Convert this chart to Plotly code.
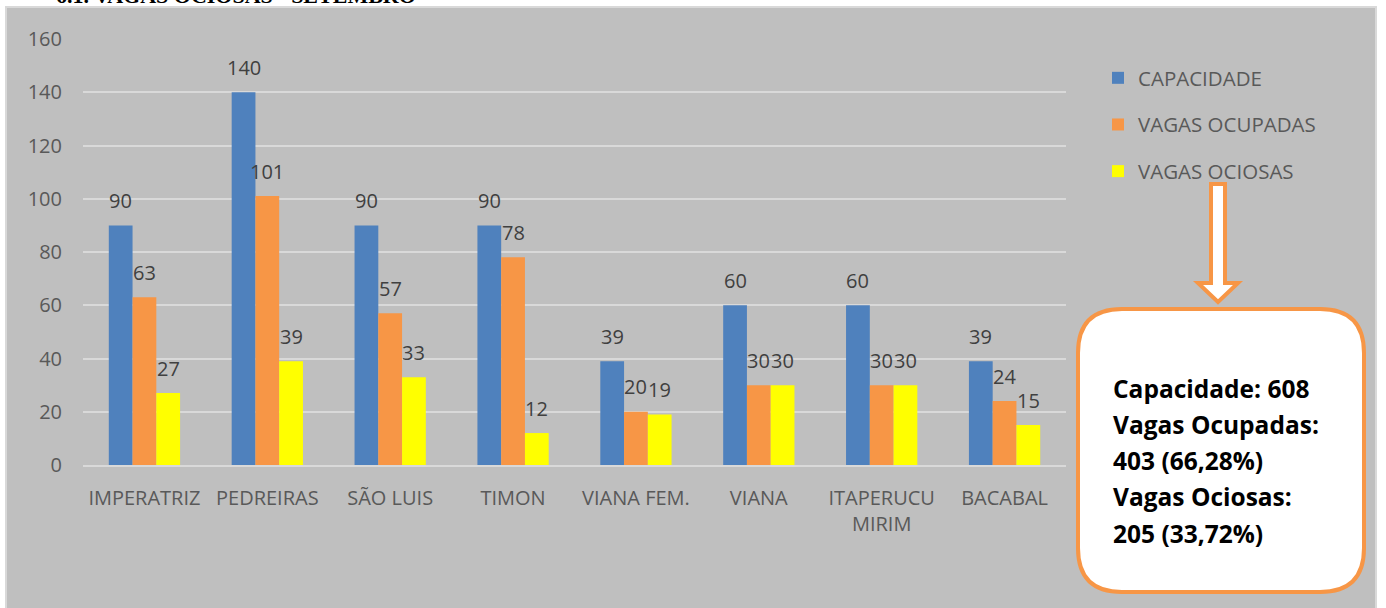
import plotly.graph_objects as go

categories = ["IMPERATRIZ", "PEDREIRAS", "SÃO LUIS", "TIMON", "VIANA FEM.", "VIANA", "ITAPERUCU<br>MIRIM", "BACABAL"]
capacidade = [90, 140, 90, 90, 39, 60, 60, 39]
ocupadas = [63, 101, 57, 78, 20, 30, 30, 24]
ociosas = [27, 39, 33, 12, 19, 30, 30, 15]
series_names = ["CAPACIDADE", "VAGAS OCUPADAS", "VAGAS OCIOSAS"]
series_colors = ["#4F81BD", "#F79646", "#FFFF00"]
y_ticks = [0, 20, 40, 60, 80, 100, 120, 140, 160]
summary_lines = ["Capacidade: 608", "Vagas Ocupadas:", "403 (66,28%)", "Vagas Ociosas:", "205 (33,72%)"]
title_text = "6.1. VAGAS OCIOSAS - SETEMBRO"

W, H = 1386, 608
PL, PR, PT, PB = 83, 1066, 39, 465
BARGAP = 0.42
FONT = "Open Sans"


def px(x):
    return (x - PL) / (PR - PL)


def py(y):
    return (PB - y) / (PB - PT)


fig = go.Figure()
all_series = [capacidade, ocupadas, ociosas]
for name, vals, col in zip(series_names, all_series, series_colors):
    fig.add_trace(go.Bar(x=categories, y=vals, name=name, marker=dict(color=col, line=dict(width=0)),
                         legendgroup=name))

cat_px = (PR - PL) / len(categories)
bar_px = cat_px * (1 - BARGAP) / 3
annotations = []
for j, vals in enumerate(all_series):
    for c, v in zip(categories, vals):
        annotations.append(dict(x=c, y=v, xref="x", yref="y", text=str(v), showarrow=False,
                                xshift=(j - 1) * bar_px, yshift=25, yanchor="middle", xanchor="center",
                                font=dict(family=FONT, size=20, color="#404040")))

for i, line in enumerate(summary_lines):
    annotations.append(dict(x=px(1111), y=py(388 + i * 36.3), xref="paper", yref="paper", text=line,
                            showarrow=False, xanchor="left", yanchor="middle",
                            font=dict(family=FONT, size=24.5, color="#000000", weight="bold")))

annotations.append(dict(x=px(54), y=py(10), xref="paper", yref="paper", text="<b>" + title_text + "</b>",
                        showarrow=False, xanchor="left", yanchor="bottom",
                        font=dict(family="Liberation Serif", size=22, color="#000000")))

shapes = []
# grey chart area
shapes.append(dict(type="rect", xref="paper", yref="paper", x0=px(6), x1=px(1376), y0=py(615), y1=py(7),
                   fillcolor="#BFBFBF", line=dict(color="#D9D9D9", width=2), layer="below"))


def rounded_rect(l, t, r, b, rad):
    pts = [
        f"M {px(l + rad)},{py(t)}",
        f"L {px(r - rad)},{py(t)}",
        f"Q {px(r)},{py(t)} {px(r)},{py(t + rad)}",
        f"L {px(r)},{py(b - rad)}",
        f"Q {px(r)},{py(b)} {px(r - rad)},{py(b)}",
        f"L {px(l + rad)},{py(b)}",
        f"Q {px(l)},{py(b)} {px(l)},{py(b - rad)}",
        f"L {px(l)},{py(t + rad)}",
        f"Q {px(l)},{py(t)} {px(l + rad)},{py(t)}",
        "Z",
    ]
    return " ".join(pts)


shapes.append(dict(type="path", xref="paper", yref="paper", path=rounded_rect(1078, 309, 1364, 592, 44),
                   fillcolor="#FFFFFF", line=dict(color="#F79646", width=4), layer="above"))

arrow_pts = [(1211, 184), (1225, 184), (1225, 283), (1238, 283), (1218, 302), (1198, 283), (1211, 283)]
arrow_path = "M " + " L ".join(f"{px(x)},{py(y)}" for x, y in arrow_pts) + " Z"
shapes.append(dict(type="path", xref="paper", yref="paper", path=arrow_path,
                   fillcolor="#FFFFFF", line=dict(color="#F79646", width=4), layer="above"))

fig.update_layout(
    width=W, height=H,
    margin=dict(l=PL, r=W - PR, t=PT, b=H - PB, pad=0),
    paper_bgcolor="#FFFFFF",
    plot_bgcolor="rgba(0,0,0,0)",
    barmode="group", bargap=BARGAP, bargroupgap=0,
    font=dict(family=FONT, size=20, color="#595959"),
    showlegend=True,
    legend=dict(xref="container", yref="container", x=1098 / W, y=1 - 58 / H, xanchor="left", yanchor="top",
                font=dict(family=FONT, size=20.5, color="#595959"), bgcolor="rgba(0,0,0,0)",
                itemwidth=30, tracegroupgap=17, traceorder="grouped"),
    shapes=shapes,
    annotations=annotations,
    xaxis=dict(showgrid=False, showline=True, linecolor="#D9D9D9", linewidth=2, ticks="",
               ticklabelstandoff=14, tickfont=dict(family=FONT, size=20, color="#595959"), zeroline=False),
    yaxis=dict(range=[0, 160], tickvals=y_ticks, showgrid=True, gridcolor="#D9D9D9", gridwidth=2,
               zeroline=False, showline=False, ticks="", ticklabelstandoff=20,
               tickfont=dict(family=FONT, size=20, color="#595959")),
)

fig.write_html("out.html", config={"displayModeBar": False},
               post_script="document.body.style.margin='0px';")
